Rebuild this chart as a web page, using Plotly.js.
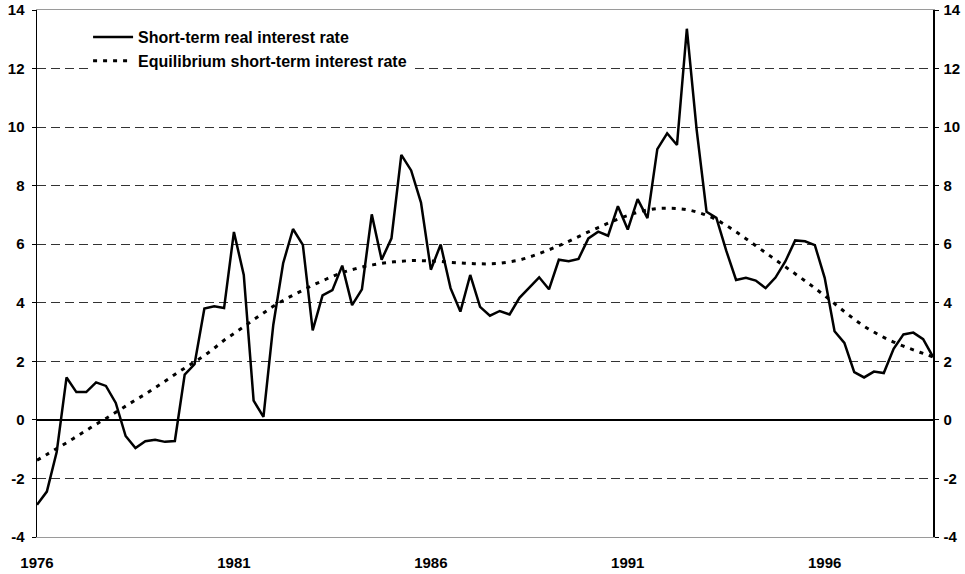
<!DOCTYPE html>
<html>
<head>
<meta charset="utf-8">
<script src="https://cdn.plot.ly/plotly-3.0.1.min.js"></script>
<style>
  html, body { margin: 0; padding: 0; background: #ffffff; }
  #chart { width: 965px; height: 574px; }
</style>
</head>
<body>
<div id="chart"></div>
<script>
// Quarterly categories 1976 Q1 .. 1998 Q4
const quarters = [];
for (let yr = 1976; yr <= 1998; yr++) {
  for (let q = 1; q <= 4; q++) quarters.push(yr + ' Q' + q);
}

const seriesNames = ['Short-term real interest rate', 'Equilibrium short-term interest rate'];

// Short-term real interest rate (%)
const realRate = [
  -2.9, -2.45, -1.1, 1.45, 0.95, 0.95, 1.28, 1.16,
  0.58, -0.55, -0.96, -0.73, -0.68, -0.75, -0.72, 1.55,
  1.9, 3.8, 3.88, 3.82, 6.42, 4.95, 0.66, 0.1,
  3.25, 5.35, 6.52, 5.98, 3.06, 4.25, 4.43, 5.27,
  3.92, 4.46, 7.02, 5.47, 6.2, 9.05, 8.52, 7.42,
  5.13, 5.99, 4.5, 3.7, 4.95, 3.86, 3.56, 3.72,
  3.6, 4.17, 4.52, 4.87, 4.46, 5.47, 5.42, 5.5,
  6.2, 6.43, 6.29, 7.3, 6.5, 7.54, 6.89, 9.25,
  9.79, 9.39, 13.36, 9.9, 7.11, 6.9, 5.78, 4.78,
  4.85, 4.76, 4.5, 4.86, 5.41, 6.13, 6.1, 5.97,
  4.85, 3.03, 2.63, 1.63, 1.45, 1.65, 1.6, 2.43,
  2.92, 2.98, 2.76, 2.15
];

// Equilibrium short-term interest rate (%)
const equilibriumRate = [
  -1.38, -1.18, -0.98, -0.78, -0.57, -0.36, -0.15, 0.05,
  0.26, 0.47, 0.68, 0.88, 1.1, 1.32, 1.55, 1.77,
  1.98, 2.2, 2.45, 2.72, 2.95, 3.18, 3.42, 3.65,
  3.88, 4.08, 4.26, 4.43, 4.6, 4.75, 4.9, 5.03,
  5.13, 5.22, 5.29, 5.35, 5.39, 5.42, 5.44, 5.44,
  5.43, 5.41, 5.38, 5.36, 5.34, 5.33, 5.33, 5.35,
  5.4, 5.46, 5.56, 5.68, 5.81, 5.95, 6.1, 6.26,
  6.42, 6.57, 6.72, 6.86, 6.98, 7.09, 7.17, 7.22,
  7.23, 7.22, 7.18, 7.1, 6.99, 6.84, 6.64, 6.42,
  6.19, 5.95, 5.71, 5.47, 5.23, 4.99, 4.75, 4.5,
  4.24, 3.97, 3.7, 3.44, 3.2, 3.0, 2.82, 2.66,
  2.52, 2.39, 2.27, 2.15
];

const xTickVals = ['1976 Q1', '1981 Q1', '1986 Q1', '1991 Q1', '1996 Q1'];
const xTickText = ['1976', '1981', '1986', '1991', '1996'];
const yTickVals = [-4, -2, 0, 2, 4, 6, 8, 10, 12, 14];
const yTickText = ['-4', '-2', '0', '2', '4', '6', '8', '10', '12', '14'];

const FONT = 'Arial, "Liberation Sans", sans-serif';
const tickFont = { family: FONT, size: 15, color: '#000', weight: 700 };

const traces = [
  {
    x: quarters, y: realRate, name: seriesNames[0], type: 'scatter', mode: 'lines',
    line: { color: '#000', width: 2.5 }, legendgroup: 'a', xaxis: 'x', yaxis: 'y'
  },
  {
    x: quarters, y: equilibriumRate, name: seriesNames[1], type: 'scatter', mode: 'lines',
    line: { color: '#000', width: 3, dash: '4px,6px', shape: 'spline' }, legendgroup: 'b', xaxis: 'x', yaxis: 'y'
  },
  {
    x: quarters, y: realRate, type: 'scatter', mode: 'lines', showlegend: false,
    hoverinfo: 'skip', line: { color: 'rgba(0,0,0,0)', width: 0 }, xaxis: 'x', yaxis: 'y2'
  }
];

const nQ = quarters.length - 1;

const layout = {
  width: 965, height: 574,
  margin: { l: 37, r: 32, t: 10, b: 37, pad: 0 },
  paper_bgcolor: '#fff', plot_bgcolor: '#fff',
  font: { family: FONT, size: 15, color: '#000' },
  showlegend: true,
  legend: {
    x: 0.057, y: 0.981, xanchor: 'left', yanchor: 'top',
    bgcolor: '#fff', borderwidth: 0,
    font: { family: FONT, size: 16, color: '#000', weight: 700 },
    traceorder: 'grouped', tracegroupgap: 0, itemwidth: 40
  },
  xaxis: {
    type: 'category', categoryarray: quarters, categoryorder: 'array',
    range: [0, nQ], showgrid: false, zeroline: false,
    showline: true, linecolor: '#9a9a9a', linewidth: 1, mirror: true,
    tickvals: xTickVals, ticktext: xTickText, ticks: '',
    tickfont: tickFont, ticklabelstandoff: 12, fixedrange: true
  },
  xaxis2: {
    type: 'category', categoryarray: quarters, categoryorder: 'array',
    range: [0, nQ], overlaying: 'x', anchor: 'free', position: 4 / 18,
    showline: false, showgrid: false, zeroline: false,
    tickvals: xTickVals, ticks: 'outside', ticklen: 4, tickcolor: '#777', tickwidth: 1,
    showticklabels: false, fixedrange: true
  },
  yaxis: {
    range: [-4, 14], tickvals: yTickVals, ticktext: yTickText,
    showgrid: true, gridcolor: '#333', gridwidth: 1, griddash: '9px,5px',
    zeroline: true, zerolinecolor: '#000', zerolinewidth: 1.5,
    showline: true, linecolor: '#000', linewidth: 1.5,
    ticks: 'outside', ticklen: 4, tickcolor: '#000', tickwidth: 1,
    tickfont: tickFont, ticklabelstandoff: 4, fixedrange: true
  },
  yaxis2: {
    range: [-4, 14], tickvals: yTickVals, ticktext: yTickText,
    overlaying: 'y', side: 'right', anchor: 'x',
    showgrid: false, zeroline: false,
    showline: true, linecolor: '#000', linewidth: 1.5,
    ticks: 'outside', ticklen: 4, tickcolor: '#000', tickwidth: 1,
    tickfont: tickFont, ticklabelstandoff: 2, fixedrange: true
  }
};

Plotly.newPlot('chart', traces, layout, { staticPlot: true, displayModeBar: false });
</script>
</body>
</html>
